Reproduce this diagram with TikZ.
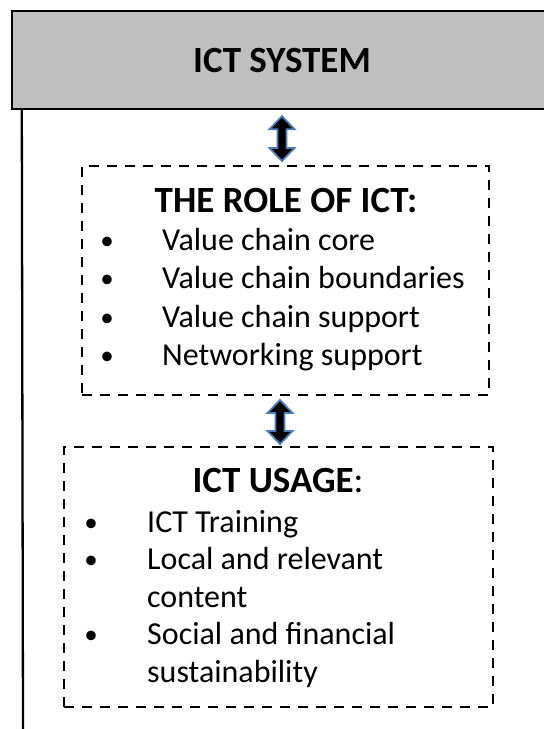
\documentclass[tikz,border=0pt]{standalone}
\usepackage{fontspec}
\setmainfont{Carlito}
\usetikzlibrary{calc}
\definecolor{boxgray}{RGB}{191,191,191}
\definecolor{arrblue}{RGB}{74,124,186}
\tikzset{
  topbox/.style={draw=black, fill=boxgray, line width=2.4pt, minimum width=540pt, minimum height=98pt, inner sep=0pt, font=\fontsize{37}{44}\selectfont\bfseries},
  dashbox/.style={draw=black, line width=2pt, dash pattern=on 10pt off 8pt, inner sep=0pt},
  title/.style={anchor=base, inner sep=0pt, font=\fontsize{37}{44}\selectfont\bfseries},
  item/.style={anchor=base west, inner sep=0pt, font=\fontsize{32}{38}\selectfont},
  bul/.style={anchor=base, inner sep=0pt, font=\fontsize{27}{32}\selectfont},
  dblarr/.style={draw=arrblue, fill=black, line width=1.8pt, line join=miter},
  vline/.style={draw=black, line width=2.3pt}
}
\newcommand\dblarrow[2]{%
  \path let \p1=(#1), \p2=(#2) in [dblarr]
    (\x1,\y1) -- (\x1+12.5pt,\y1-13pt) -- (\x1+4.5pt,\y1-13pt) -- (\x1+4.5pt,\y2+13pt)
    -- (\x1+12.5pt,\y2+13pt) -- (\x1,\y2) -- (\x1-12.5pt,\y2+13pt) -- (\x1-4.5pt,\y2+13pt)
    -- (\x1-4.5pt,\y1-13pt) -- (\x1-12.5pt,\y1-13pt) -- cycle;}
\begin{document}
\begin{tikzpicture}[x=1pt, y=-1pt]
\useasboundingbox (0,0) rectangle (544,729);
\clip (0,0) rectangle (544,729);
% top box
\node[topbox] (top) at (282,60) {ICT SYSTEM};
% vertical line on the left
\coordinate (vtop) at ($(top.south west)+(11,0)$);
\coordinate (vbot) at (23,729);
\draw[vline] (vtop) -- (vbot);
% role box
\node[dashbox, minimum width=407pt, minimum height=229pt] (role) at (285.5,280.5) {};
\node[title] (roleT) at (286,212) {THE ROLE OF ICT:};
\node[bul] (rb1) at (107,249) {•};
\node[bul] (rb2) at (107,287) {•};
\node[bul] (rb3) at (107,326) {•};
\node[bul] (rb4) at (107,364) {•};
\node[item] (ri1) at (162,250) {Value chain core};
\node[item] (ri2) at (162,288) {Value chain boundaries};
\node[item] (ri3) at (162,327) {Value chain support};
\node[item] (ri4) at (162,365) {Networking support};
% usage box
\node[dashbox, minimum width=429pt, minimum height=260pt] (usage) at (278.5,577) {};
\node[title] (useT) at (278,492) {ICT USAGE\mdseries:};
\node[bul] (ub1) at (91,531) {•};
\node[bul] (ub2) at (91,568.5) {•};
\node[bul] (ub3) at (91,643.5) {•};
\node[item] (ui1) at (147,532) {ICT Training};
\node[item] (ui2) at (147,569.5) {Local and relevant};
\node[item] (ui3) at (147,607) {content};
\node[item] (ui4) at (147,644.5) {Social and financial};
\node[item] (ui5) at (147,682) {sustainability};
% arrows
\coordinate (a1t) at ($(top.south)+(0,6)$);
\coordinate (a1b) at ($(top.south |- role.north)+(0,-4)$);
\dblarrow{a1t}{a1b}
\coordinate (a2t) at ($(usage.north |- role.south)+(1.5,4)$);
\coordinate (a2b) at ($(usage.north)+(1.5,-2)$);
\dblarrow{a2t}{a2b}
\end{tikzpicture}
\end{document}
